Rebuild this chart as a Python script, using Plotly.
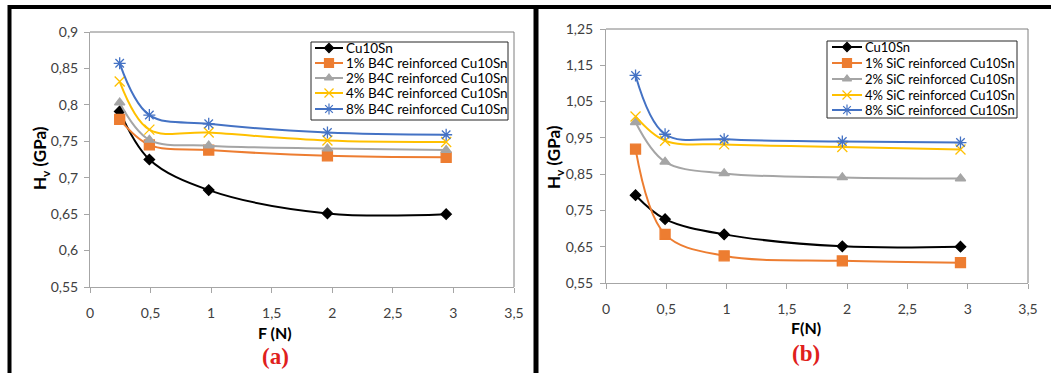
import plotly.graph_objects as go

W, H = 1051, 373

# ---------------- data ----------------
F_N = [0.245, 0.49, 0.98, 1.96, 2.94]

names_a = ["Cu10Sn", "1% B4C reinforced Cu10Sn", "2% B4C reinforced Cu10Sn",
           "4% B4C reinforced Cu10Sn", "8% B4C reinforced Cu10Sn"]
cu_a = [0.791, 0.725, 0.683, 0.651, 0.650]
b4c_1 = [0.780, 0.745, 0.738, 0.730, 0.728]
b4c_2 = [0.803, 0.752, 0.744, 0.740, 0.738]
b4c_4 = [0.832, 0.766, 0.762, 0.751, 0.749]
b4c_8 = [0.857, 0.786, 0.774, 0.762, 0.759]

names_b = ["Cu10Sn", "1% SiC reinforced Cu10Sn", "2% SiC reinforced Cu10Sn",
           "4% SiC reinforced Cu10Sn", "8% SiC reinforced Cu10Sn"]
cu_b = [0.792, 0.726, 0.684, 0.651, 0.650]
sic_1 = [0.919, 0.684, 0.625, 0.611, 0.606]
sic_2 = [0.993, 0.884, 0.852, 0.841, 0.838]
sic_4 = [1.009, 0.942, 0.932, 0.925, 0.918]
sic_8 = [1.122, 0.960, 0.946, 0.940, 0.937]

x_ticks = [0, 0.5, 1, 1.5, 2, 2.5, 3, 3.5]
x_ticktext = ["0", "0,5", "1", "1,5", "2", "2,5", "3", "3,5"]
ya_ticks = [0.55, 0.6, 0.65, 0.7, 0.75, 0.8, 0.85, 0.9]
ya_ticktext = ["0,55", "0,6", "0,65", "0,7", "0,75", "0,8", "0,85", "0,9"]
yb_ticks = [0.55, 0.65, 0.75, 0.85, 0.95, 1.05, 1.15, 1.25]
yb_ticktext = ["0,55", "0,65", "0,75", "0,85", "0,95", "1,05", "1,15", "1,25"]

colors = ["#000000", "#ED7D31", "#A5A5A5", "#FFC000", "#4472C4"]
symbols = ["diamond", "square", "triangle-up", "x-thin-open", "asterisk-open"]
msizes = [8, 10, 9, 10, 10]

FONT = "Lato"

def px(x):
    return x / W

def py(y):
    return 1 - y / H

fig = go.Figure()

series_a = [cu_a, b4c_1, b4c_2, b4c_4, b4c_8]
series_b = [cu_b, sic_1, sic_2, sic_4, sic_8]

for i, ys in enumerate(series_a):
    fig.add_trace(go.Scatter(
        x=F_N, y=ys, mode="lines+markers", name=names_a[i], showlegend=False,
        line=dict(color=colors[i], width=2, shape="spline", smoothing=1),
        marker=dict(symbol=symbols[i], size=msizes[i], color=colors[i],
                    line=dict(color=colors[i], width=1.3)),
        xaxis="x", yaxis="y"))

for i, ys in enumerate(series_b):
    fig.add_trace(go.Scatter(
        x=F_N, y=ys, mode="lines+markers", name=names_b[i], showlegend=False,
        line=dict(color=colors[i], width=2, shape="spline", smoothing=1),
        marker=dict(symbol=symbols[i], size=msizes[i], color=colors[i],
                    line=dict(color=colors[i], width=1.3)),
        xaxis="x2", yaxis="y2"))

# -------- plot area geometry (pixels) --------
A = dict(l=90, r=514, t=32, b=287)
B = dict(l=606, r=1028, t=29, b=283)

axis_common = dict(
    showgrid=False, zeroline=False, showline=True, linecolor="#A6A6A6", linewidth=1,
    ticks="outside", ticklen=5, tickcolor="#A6A6A6", tickwidth=1, automargin=False,
    tickfont=dict(family=FONT, size=14, color="#404040"),
)

fig.update_layout(
    width=W, height=H, autosize=False,
    margin=dict(l=0, r=0, t=0, b=0, pad=0, autoexpand=False),
    paper_bgcolor="white", plot_bgcolor="rgba(0,0,0,0)",
    showlegend=False,
    xaxis=dict(domain=[px(A["l"]), px(A["r"])], range=[0, 3.5], tickvals=x_ticks,
               ticktext=x_ticktext, anchor="y", ticklabelstandoff=8, **axis_common),
    yaxis=dict(domain=[py(A["b"]), py(A["t"])], range=[0.55, 0.9], tickvals=ya_ticks,
               ticktext=ya_ticktext, anchor="x", ticklabelstandoff=3, **axis_common),
    xaxis2=dict(domain=[px(B["l"]), px(B["r"])], range=[0, 3.5], tickvals=x_ticks,
                ticktext=x_ticktext, anchor="y2", ticklabelstandoff=8, **axis_common),
    yaxis2=dict(domain=[py(B["b"]), py(B["t"])], range=[0.55, 1.25], tickvals=yb_ticks,
                ticktext=yb_ticktext, anchor="x2", ticklabelstandoff=4, **axis_common),
    # overlay axes in pixel units, used only for the legend samples
    xaxis3=dict(domain=[0, 1], range=[0, W], visible=False, anchor="y3",
                fixedrange=True, automargin=False),
    yaxis3=dict(domain=[0, 1], range=[H, 0], visible=False, anchor="x3",
                fixedrange=True, automargin=False),
)

shapes = []
annotations = []

# plot-area frame (top and right edges)
for P in (A, B):
    shapes.append(dict(type="line", xref="paper", yref="paper",
                       x0=px(P["l"]), x1=px(P["r"]), y0=py(P["t"]), y1=py(P["t"]),
                       line=dict(color="#7F7F7F", width=1)))
    shapes.append(dict(type="line", xref="paper", yref="paper",
                       x0=px(P["r"]), x1=px(P["r"]), y0=py(P["t"]), y1=py(P["b"]),
                       line=dict(color="#7F7F7F", width=1)))

# thick black figure borders
shapes.append(dict(type="line", xref="paper", yref="paper", x0=px(8), x1=1, y0=py(7), y1=py(7),
                   line=dict(color="black", width=4)))
shapes.append(dict(type="line", xref="paper", yref="paper", x0=px(9.5), x1=px(9.5), y0=py(5), y1=0,
                   line=dict(color="black", width=4)))
shapes.append(dict(type="line", xref="paper", yref="paper", x0=px(536), x1=px(536), y0=py(5), y1=0,
                   line=dict(color="black", width=5)))

# -------- manual legends --------
legends = [
    dict(box=(311, 42, 508, 120), line=(315, 343), text_x=344, rows=[48, 63, 78, 93, 109],
         names=names_a, fsize=13.5),
    dict(box=(827, 41, 1017, 118), line=(832, 862), text_x=863, rows=[47, 63, 79, 95, 110],
         names=names_b, fsize=13),
]
for L in legends:
    x0, y0, x1, y1 = L["box"]
    shapes.append(dict(type="rect", xref="paper", yref="paper",
                       x0=px(x0), x1=px(x1), y0=py(y0), y1=py(y1),
                       line=dict(color="#262626", width=1), fillcolor="white", layer="below"))
    lx0, lx1 = L["line"]
    for i, ry in enumerate(L["rows"]):
        fig.add_trace(go.Scatter(x=[lx0, lx1], y=[ry, ry], mode="lines", showlegend=False,
                                 line=dict(color=colors[i], width=2), hoverinfo="skip",
                                 xaxis="x3", yaxis="y3"))
        fig.add_trace(go.Scatter(x=[(lx0 + lx1) / 2], y=[ry], mode="markers", showlegend=False,
                                 marker=dict(symbol=symbols[i], size=msizes[i] - 1, color=colors[i],
                                             line=dict(color=colors[i], width=1.2)),
                                 hoverinfo="skip", xaxis="x3", yaxis="y3"))
        annotations.append(dict(text=L["names"][i], xref="paper", yref="paper",
                                x=px(L["text_x"]), y=py(ry), xanchor="left", yanchor="middle",
                                showarrow=False, font=dict(family=FONT, size=L["fsize"], color="#000000")))

# axis titles and panel labels
def centered(text, x, y, size, family, color, angle=0):
    return dict(text=text, xref="paper", yref="paper", x=px(x), y=py(y),
                xanchor="center", yanchor="middle", textangle=angle, showarrow=False,
                font=dict(family=family, size=size, color=color))

annotations += [
    centered("<b>H<sub>v</sub> (GPa)</b>", 41, 158, 17, FONT, "#000000", -90),
    centered("<b>F (N)</b>", 275, 332, 16, FONT, "#000000"),
    centered("<b>(a)</b>", 275, 356, 23, "Liberation Serif", "#E0201C"),
    centered("<b>H<sub>v</sub> (GPa)</b>", 555, 157, 17, FONT, "#000000", -90),
    centered("<b>F(N)</b>", 806, 327, 16, FONT, "#000000"),
    centered("<b>(b)</b>", 806, 353, 23, "Liberation Serif", "#E0201C"),
]

fig.update_layout(shapes=shapes, annotations=annotations)

fig.write_html("out.html", config={"displayModeBar": False},
               post_script="document.body.style.margin='0px';document.body.style.overflow='hidden';")
